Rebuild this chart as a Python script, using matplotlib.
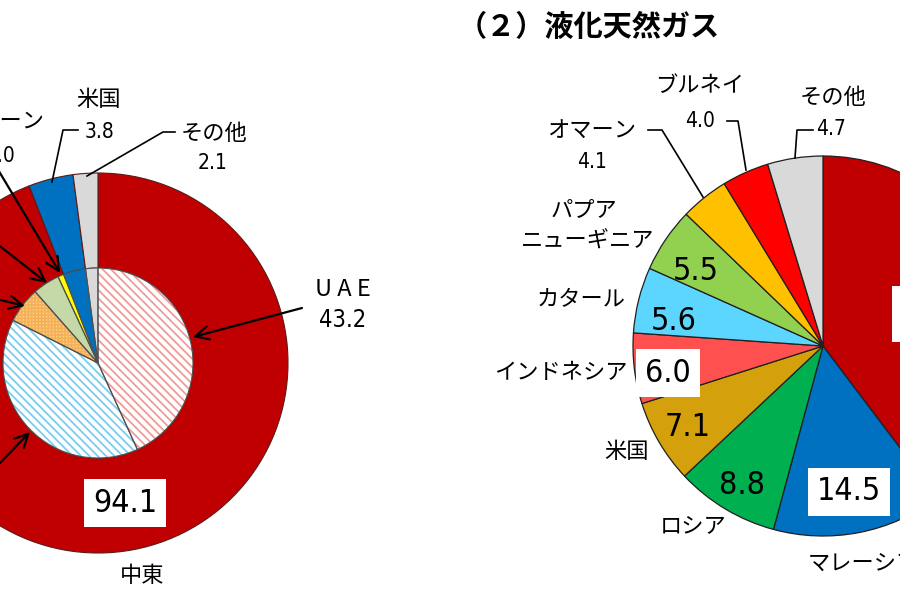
import matplotlib
matplotlib.use("Agg")
import matplotlib.pyplot as plt
from matplotlib import font_manager as fm

# ---------------- data ----------------
# (1) crude oil (left, partially cropped)
crude_region_labels = ["中東", "米国", "その他"]
crude_region_values = [94.1, 3.8, 2.1]
crude_country_labels = ["UAE", "サウジアラビア", "クウェート", "カタール", "オマーン", "米国", "その他"]
crude_country_values = [43.2, 39.2, 6.1, 4.6, 1.0, 3.8, 2.1]

# (2) LNG (right)
lng_labels = ["オーストラリア", "マレーシア", "ロシア", "米国", "インドネシア",
              "カタール", "パプアニューギニア", "オマーン", "ブルネイ", "その他"]
lng_values = [39.7, 14.5, 8.8, 7.1, 6.0, 5.6, 5.5, 4.1, 4.0, 4.7]

title_lng = "（２）液化天然ガス"

# ---------------- styles ----------------
ttf = fm.fontManager.ttflist
names = {f.name for f in ttf}
num_stretch = "normal"
if "Liberation Sans Narrow" in names:
    NUMFAM = "Liberation Sans Narrow"
elif any(f.name == "DejaVu Sans" and "condensed" in str(f.stretch) for f in ttf):
    NUMFAM = "DejaVu Sans"
    num_stretch = "condensed"
elif "Roboto" in names:
    NUMFAM = "Roboto"
else:
    NUMFAM = "DejaVu Sans"
JP = ["Noto Sans CJK JP", "DejaVu Sans"]
NUM = [NUMFAM, "Noto Sans CJK JP", "DejaVu Sans"]
plt.rcParams["font.family"] = JP
plt.rcParams["hatch.linewidth"] = 1.3

W, H = 900, 600
fig = plt.figure(figsize=(9, 6), dpi=100)
ax = fig.add_axes([0, 0, 1, 1])


def P(x, y):
    return (x, H - y)


# ---------------- left: crude oil donut ----------------
cL = P(98, 363)
R = 190
region_colors = ["#C00000", "#0070C0", "#D9D9D9"]
ax.pie(crude_region_values, colors=region_colors, radius=R, center=cL,
       startangle=90, counterclock=False,
       wedgeprops=dict(width=R / 2, edgecolor="#5a1a1a", linewidth=0.8))

inner_colors = ["white", "white", "#FFD966", "#C5D9A8", "#FFFF00", "#0070C0", "#D9D9D9"]
wedges, _ = ax.pie(crude_country_values, colors=inner_colors, radius=R / 2, center=cL,
                   startangle=90, counterclock=False,
                   wedgeprops=dict(linewidth=0))
hatches = {0: ("\\\\\\\\", "#F29A9A"), 1: ("\\\\\\\\", "#7ACDEE"), 2: ("+++++", "#F4B060")}
for i, (h, hc) in hatches.items():
    wedges[i].set_hatch(h)
    wedges[i].set_edgecolor(hc)
    wedges[i].set_linewidth(0)
ax.pie(crude_country_values, radius=R / 2, center=cL, startangle=90, counterclock=False,
       wedgeprops=dict(fill=False, edgecolor="#505050", linewidth=0.8))

numkw = dict(family=NUM, fontstretch=num_stretch, ha="center", va="center")

# labels of the left chart
ax.text(*P(99, 99), "米国", fontsize=16, ha="center", va="center")
ax.text(*P(99, 132), f"{crude_region_values[1]:.1f}", fontsize=15, **numkw)
ax.plot(*zip(P(78, 130), P(63, 130), P(52, 182)), color="black", lw=1.2)
ax.text(*P(214, 133), "その他", fontsize=16, ha="center", va="center")
ax.text(*P(213, 163), f"{crude_region_values[2]:.1f}", fontsize=15, **numkw)
ax.plot(*zip(P(175, 132), P(163, 132), P(87, 176)), color="black", lw=1.2)

ax.text(*P(0, 122), crude_country_labels[4], fontsize=16, ha="center", va="center")
ax.text(*P(0, 156), f"{crude_country_values[4]:.1f}", fontsize=15, **numkw)

ax.text(*P(343, 289), "U A E", fontsize=17, ha="center", va="center")
ax.text(*P(343, 320), f"{crude_country_values[0]:.1f}", fontsize=17, **numkw)

arrow_kw = dict(arrowstyle="->", lw=1.6, color="black", mutation_scale=24, shrinkA=0, shrinkB=0)
for start, tip in [((302, 308), (193, 337)),
                   ((-24, 133), (60, 273)),
                   ((-40, 215), (47, 283)),
                   ((-40, 290), (25, 306)),
                   ((-30, 494), (30, 432))]:
    ax.annotate("", xy=P(*tip), xytext=P(*start), arrowprops=arrow_kw, annotation_clip=False)

ax.text(*P(125, 503), f"{crude_region_values[0]:.1f}", fontsize=23, **numkw,
        bbox=dict(boxstyle="square,pad=0.28", fc="white", ec="none"))
ax.text(*P(142, 576), crude_region_labels[0], fontsize=16, ha="center", va="center")

# ---------------- right: LNG pie ----------------
cR = P(823, 346)
lng_colors = ["#C00000", "#0070C0", "#00B050", "#D4A00C", "#FF5050",
              "#5CD6FF", "#92D050", "#FFC000", "#FF0000", "#D9D9D9"]
ax.pie(lng_values, colors=lng_colors, radius=R, center=cR, startangle=90, counterclock=False,
       wedgeprops=dict(edgecolor="#202020", linewidth=0.9))

ax.text(*P(589, 27), title_lng, fontsize=21, weight="bold", ha="center", va="center")

big = dict(fontsize=23, **numkw)
small = dict(fontsize=15, **numkw)
jp = dict(fontsize=16, ha="center", va="center")
box = dict(boxstyle="square,pad=0.28", fc="white", ec="none")

# Australia (box mostly cropped)
ax.text(*P(905, 314), f"{lng_values[0]:.1f}", fontsize=23, family=NUM, fontstretch=num_stretch,
        ha="left", va="center", bbox=dict(boxstyle="square,pad=0.4", fc="white", ec="none"))
# Malaysia
ax.text(*P(849, 492), f"{lng_values[1]:.1f}", bbox=box, **big)
ax.text(*P(808, 563), lng_labels[1], fontsize=16, ha="left", va="center")
# Russia
ax.text(*P(742, 485), f"{lng_values[2]:.1f}", **big)
ax.text(*P(693, 526), lng_labels[2], **jp)
# US
ax.text(*P(688, 428), f"{lng_values[3]:.1f}", **big)
ax.text(*P(627, 452), lng_labels[3], **jp)
# Indonesia
ax.text(*P(668, 373), f"{lng_values[4]:.1f}", bbox=box, **big)
ax.text(*P(561, 372), lng_labels[4], **jp)
# Qatar
ax.text(*P(674, 322), f"{lng_values[5]:.1f}", **big)
ax.text(*P(581, 300), lng_labels[5], **jp)
# PNG
ax.text(*P(696, 271), f"{lng_values[6]:.1f}", **big)
ax.text(*P(584, 210), "パプア", **jp)
ax.text(*P(588, 241), "ニューギニア", **jp)
# Oman
ax.text(*P(592, 131), lng_labels[7], **jp)
ax.text(*P(592, 162), f"{lng_values[7]:.1f}", **small)
ax.plot(*zip(P(648, 130), P(662, 130), P(703, 197)), color="black", lw=1.2)
# Brunei
ax.text(*P(700, 85), lng_labels[8], **jp)
ax.text(*P(700, 121), f"{lng_values[8]:.1f}", **small)
ax.plot(*zip(P(727, 121), P(738, 121), P(746, 170)), color="black", lw=1.2)
# Other
ax.text(*P(833, 97), lng_labels[9], **jp)
ax.text(*P(831, 129), f"{lng_values[9]:.1f}", **small)
ax.plot(*zip(P(813, 130), P(797, 130), P(795, 158)), color="black", lw=1.2)

ax.set_xlim(0, W)
ax.set_ylim(0, H)
ax.set_aspect("equal")
ax.axis("off")

fig.savefig("out.png", dpi=100)
